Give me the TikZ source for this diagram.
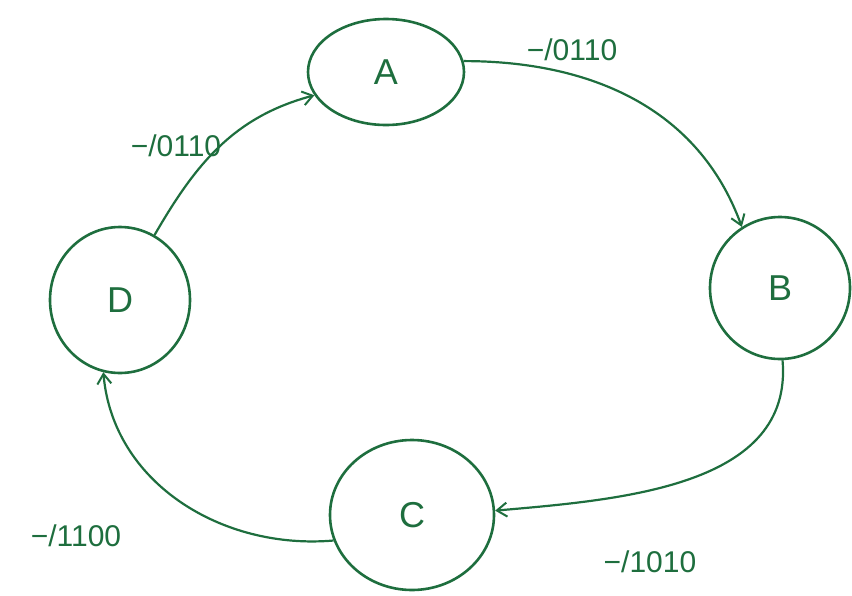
\documentclass[tikz,border=0pt]{standalone}
\usepackage{fontspec}
\setmainfont{Liberation Sans}
\usetikzlibrary{shapes.geometric,arrows.meta}
\definecolor{pen}{HTML}{1E6E3E}
\begin{document}
\begin{tikzpicture}[x=1pt,y=-1pt,
  state/.style={draw=pen, line width=2.6pt, ellipse, text=pen, font=\fontsize{36}{42}\selectfont},
  edge/.style={draw=pen, line width=2.2pt, -{Straight Barb[length=10pt,width=14pt,line width=2pt]}},
  lbl/.style={text=pen, font=\fontsize{30}{34}\selectfont}]
\useasboundingbox (0,0) rectangle (852,595);
\node[state, minimum width=156pt, minimum height=106pt] (A) at (386,72) {A};
\node[state, minimum width=140pt, minimum height=142pt] (B) at (780,288) {B};
\node[state, minimum width=164pt, minimum height=150pt] (C) at (412,515) {C};
\node[state, minimum width=140pt, minimum height=146pt] (D) at (120,300) {D};
\draw[edge] (A.8) to[out=0, in=110] (B.122);
\draw[edge] (D.62) to[out=60, in=195] (A.198);
\draw[edge] (B.-88) to[out=-85, in=5] (C.3);
\draw[edge] (C.198) to[out=185, in=-85] (D.-103);
\node[lbl] (l1) at (572,50) {−/0110};
\node[lbl] (l2) at (176,146) {−/0110};
\node[lbl] (l3) at (650,562) {−/1010};
\node[lbl] (l4) at (76,536) {−/1100};
\end{tikzpicture}
\end{document}
